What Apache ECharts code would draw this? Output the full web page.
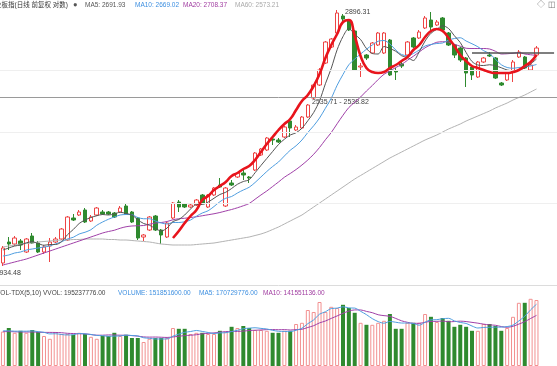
<!DOCTYPE html>
<html><head><meta charset="utf-8">
<script src="https://cdn.jsdelivr.net/npm/echarts/dist/echarts.min.js"></script>
<style>html,body{margin:0;padding:0;background:#fff;overflow:hidden}#c{width:557px;height:366px}</style>
</head><body><div id="c"></div>
<script>
// ---- data ----
const slotCount = 95; // 92 trading days + empty room on the right
const categories = Array.from({length: slotCount}, (_, i) => 'D' + (i + 1));

const openP = [1884,1968,1960,1972,1928,1992,1964,1928,1952,1968,
1980,1976,2064,2076,2096,2052,2076,2088,2088,2084,
2088,2112,2088,2064,1988,2016,2072,2016,1988,2064,
2128,2120,2108,2116,2156,2108,2156,2196,2112,2204,
2228,2244,2228,2256,2316,2336,2380,2376,2388,2452,
2416,2424,2468,2544,2596,2684,2748,2804,2872,2856,
2812,2668,2716,2724,2756,2724,2776,2652,2680,2716,
2784,2784,2824,2856,2836,2864,2804,2756,2744,2704,
2668,2628,2688,2716,2704,2604,2616,2648,2708,2708,
2656,2716];
const closeP = [1944,1960,1984,1956,1980,1964,1928,1948,1968,1980,
2020,2068,2056,2088,2048,2068,2104,2080,2080,2068,
2104,2080,2048,1984,1996,2068,2016,1996,2044,2124,
2108,2108,2116,2136,2124,2156,2184,2188,2184,2196,
2244,2236,2224,2324,2340,2384,2376,2368,2428,2424,
2428,2468,2516,2596,2656,2768,2780,2884,2860,2816,
2656,2672,2704,2764,2804,2804,2636,2648,2672,2768,
2748,2808,2864,2828,2848,2816,2756,2716,2696,2644,
2636,2688,2704,2712,2624,2596,2644,2688,2728,2664,
2676,2744];
const lowP = [1872,1936,1952,1936,1924,1960,1924,1920,1888,1964,
1976,1972,2052,2072,2044,2048,2072,2076,2076,2064,
2084,2076,2044,1976,1972,2012,2012,1960,1984,2060,
2088,2104,2104,2112,2120,2104,2152,2184,2108,2192,
2224,2216,2204,2252,2312,2332,2356,2364,2384,2388,
2412,2420,2464,2540,2592,2680,2744,2800,2852,2812,
2652,2628,2696,2720,2752,2720,2632,2616,2664,2712,
2744,2780,2820,2808,2832,2808,2752,2704,2688,2588,
2616,2624,2684,2708,2620,2592,2612,2608,2704,2660,
2652,2712];
const highP = [1952,1988,1992,1980,1984,2004,1972,1956,1984,1988,
2024,2072,2080,2096,2104,2076,2108,2096,2092,2088,
2112,2124,2092,2068,2000,2072,2076,2020,2048,2128,
2136,2124,2124,2140,2160,2160,2188,2224,2188,2216,
2248,2256,2232,2328,2344,2388,2388,2384,2432,2460,
2436,2472,2520,2600,2664,2772,2784,2896,2880,2860,
2816,2684,2720,2768,2808,2808,2780,2664,2688,2772,
2788,2816,2872,2888,2856,2868,2808,2760,2748,2708,
2672,2692,2708,2728,2708,2608,2648,2696,2736,2712,
2680,2752];

const ma5 = [1936,1944,1952,1956,1965,1969,1962,1955,1958,1958,
1969,1997,2018,2042,2056,2066,2073,2078,2076,2080,
2087,2082,2076,2057,2042,2035,2022,2012,2024,2050,
2058,2076,2100,2118,2118,2128,2143,2158,2167,2182,
2199,2210,2217,2245,2274,2302,2330,2358,2379,2396,
2405,2423,2453,2486,2533,2601,2663,2737,2790,2822,
2799,2778,2742,2722,2720,2750,2742,2731,2713,2706,
2694,2729,2772,2803,2819,2833,2822,2793,2766,2726,
2690,2676,2674,2677,2673,2665,2656,2653,2656,2664,
2680,2700];
const ma10 = [1912,1916,1924,1928,1936,1940,1944,1948,1952,1961,
1969,1980,1987,2000,2007,2017,2035,2048,2059,2068,
2076,2078,2077,2066,2061,2061,2052,2044,2040,2046,
2046,2049,2056,2071,2084,2093,2110,2129,2143,2150,
2164,2176,2187,2206,2228,2250,2270,2288,2312,2335,
2353,2376,2406,2433,2464,2503,2543,2595,2638,2677,
2700,2720,2739,2756,2771,2774,2760,2736,2718,2713,
2722,2736,2752,2758,2762,2764,2776,2782,2785,2772,
2761,2749,2733,2722,2699,2677,2666,2663,2666,2668,
2672,2678];
const ma20 = [1876,1882,1888,1894,1900,1908,1916,1924,1932,1940,
1948,1956,1964,1972,1980,1988,1996,2004,2010,2015,
2023,2029,2032,2033,2034,2039,2044,2046,2050,2057,
2061,2063,2066,2069,2073,2077,2081,2086,2092,2098,
2105,2113,2122,2139,2156,2172,2190,2208,2227,2242,
2258,2276,2296,2319,2346,2377,2406,2441,2475,2506,
2527,2548,2572,2594,2618,2639,2652,2666,2678,2695,
2711,2728,2745,2757,2767,2769,2768,2759,2751,2743,
2742,2742,2742,2740,2731,2720,2721,2723,2726,2720,
2717,2714];
const ma60 = [1948,1952,1956,1960,1962,1964,1968,1970,1972,1974,
1976,1976,1978,1978,1980,1980,1980,1980,1978,1978,
1976,1976,1974,1972,1970,1968,1964,1960,1958,1956,
1956,1956,1956,1958,1960,1962,1964,1968,1972,1976,
1980,1984,1988,1994,2000,2008,2018,2028,2040,2052,
2064,2076,2092,2108,2124,2140,2156,2172,2188,2204,
2220,2234,2248,2262,2276,2290,2304,2316,2328,2340,
2352,2364,2376,2386,2396,2408,2420,2430,2440,2452,
2462,2472,2482,2492,2504,2514,2524,2536,2546,2556,
2568,2580];
// hand-drawn red trend curve (starts at day 30)
const trendStart = 29;
const trend = [1984,2012,2044,2072,2096,2136,2152,2176,2192,2208,
2232,2244,2260,2272,2296,2328,2360,2388,2416,2440,
2460,2496,2532,2556,2592,2640,2704,2756,2800,2848,
2856,2792,2712,2664,2648,2644,2648,2664,2676,2692,
2708,2736,2756,2788,2812,2820,2812,2784,2752,2716,
2692,2672,2664,2656,2648,2644,2644,2644,2648,2656,
2672,2688,2716];

const volume = [86,95,83,88,83,90,85,75,68,85,
80,80,78,83,80,73,68,75,75,83,
75,78,70,70,60,68,70,70,70,95,
93,93,80,83,83,80,80,88,85,98,
95,100,95,90,90,88,83,83,88,88,
105,108,140,135,160,135,148,145,153,145,
133,108,103,103,108,113,130,93,93,108,
108,108,130,123,110,120,113,98,103,98,
88,88,105,105,100,88,95,123,158,158,
168,165];
const volMa5 = [88,88,87,87,87,87.8,85.8,84.2,80.2,80.6,
78.6,77.6,78.2,81.2,80.2,78.8,76.4,75.8,74.2,74.8,
75.2,77.2,76.2,75.2,70.6,69.2,67.6,67.6,67.6,74.6,
79.6,84.2,86.2,88.8,86.4,83.8,81.2,82.8,83.2,86.2,
89.2,93.2,94.6,95.6,94,92.6,89.2,86.8,86.4,86,
89.4,94.4,105.8,115.2,129.6,135.6,143.6,144.6,148.2,145.2,
144.8,136.8,128.4,118.4,111,107,111.4,109.4,107.4,107.4,
106.4,102,109.4,115.4,115.8,118.2,119.2,112.8,108.8,106.4,
100,95,96.4,96.8,97.2,97.2,98.6,102.2,112.8,124.4,
140.4,154.4];
const volMa10 = [86,86,85.5,85,85,85,84.5,84,84,83.8,
83.2,81.7,81.2,80.7,80.4,78.7,77,77,77.7,77.5,
77,76.8,76,74.7,72.7,72.2,72.4,71.9,71.4,72.6,
74.4,75.9,76.9,78.2,80.5,81.7,82.7,84.5,86,86.3,
86.5,87.2,88.7,89.4,90.1,90.9,91.2,90.7,91,90,
91,91.8,96.3,100.8,107.8,112.5,119,125.2,131.7,137.4,
140.2,140.2,136.5,133.3,128.1,125.9,124.1,118.9,112.9,109.2,
106.7,106.7,109.4,111.4,111.6,112.3,110.6,111.1,112.1,111.1,
109.1,107.1,104.6,102.8,101.8,98.6,96.8,99.3,104.8,110.8,
118.8,126.5];

const gridValues = [2656, 2408, 2124];
const rangeLineValue = 2548;
const resistValue = 2724;
const resistFrom = 80, resistTo = 94;

const headerTexts = ['业板指(日线 前复权 对数)', 'MA5: 2691.93', 'MA10: 2669.02', 'MA20: 2708.37', 'MA60: 2573.21'];
const volTexts = ['VOL-TDX(5,10) VVOL: 195237776.00', 'VOLUME: 151851600.00', 'MA5: 170729776.00', 'MA10: 141551136.00'];
const markTexts = ['2896.31', '1934.48', '2535.71 - 2538.82'];

// ---- build ----
const UP = '#ee4444', DOWN = '#2f8a2f';
const candle = openP.map((o, i) => [o, closeP[i], lowP[i], highP[i]]);
const trendData = categories.map((_, i) => (i >= trendStart && i - trendStart < trend.length) ? trend[i - trendStart] : null);
const volData = volume.map((v, i) => ({
  value: v,
  itemStyle: closeP[i] >= openP[i] ? {color: '#fff', borderColor: '#f29090', borderWidth: 1} : {color: DOWN}
}));

const FS = 6.5, FF = '"Liberation Sans", Arial, "Noto Sans CJK SC", sans-serif';
function txt(x, y, s, color, size) {
  return {type: 'text', left: x, top: y, silent: true,
    style: {text: s, fill: color, font: (size || FS) + 'px ' + FF}};
}

const chart = echarts.init(document.getElementById('c'), null, {renderer: 'canvas'});
chart.setOption({
  animation: false,
  backgroundColor: '#fff',
  grid: [
    {left: 0, right: 0, top: 0, height: 285},
    {left: 0, right: 0, top: 288, height: 78}
  ],
  xAxis: [
    {type: 'category', gridIndex: 0, data: categories, boundaryGap: true,
     axisLine: {show: true, lineStyle: {color: '#dcdcdc'}}, axisTick: {show: false}, axisLabel: {show: false}, splitLine: {show: false}},
    {type: 'category', gridIndex: 1, data: categories, boundaryGap: true,
     axisLine: {show: false}, axisTick: {show: false}, axisLabel: {show: false}, splitLine: {show: false}}
  ],
  yAxis: [
    {type: 'value', gridIndex: 0, min: 1796, max: 2936, scale: true,
     axisLine: {show: false}, axisTick: {show: false}, axisLabel: {show: false}, splitLine: {show: false}},
    {type: 'value', gridIndex: 1, min: 0, max: 195,
     axisLine: {show: false}, axisTick: {show: false}, axisLabel: {show: false}, splitLine: {show: false}}
  ],
  series: [
    {type: 'line', xAxisIndex: 0, yAxisIndex: 0, data: [], silent: true,
     markLine: {silent: true, symbol: 'none', label: {show: false}, animation: false,
       data: gridValues.map(v => ({yAxis: v, lineStyle: {color: '#efefef', width: 1, type: 'solid'}}))}},
    {type: 'candlestick', xAxisIndex: 0, yAxisIndex: 0, data: candle, barWidth: 4,
     itemStyle: {color: '#fff', color0: DOWN, borderColor: UP, borderColor0: DOWN, borderWidth: 1},
     markLine: {silent: true, symbol: 'none', label: {show: false}, animation: false,
       data: [
         {yAxis: rangeLineValue, lineStyle: {color: '#9a9a9a', width: 1, type: 'solid'}},
         [{coord: [resistFrom, resistValue], lineStyle: {color: '#555', width: 1.6, type: 'solid'}}, {coord: [resistTo, resistValue]}]
       ]}},
    {name: 'MA60', type: 'line', data: ma60, symbol: 'none', smooth: 0.3, lineStyle: {color: '#b3b3b3', width: 1}},
    {name: 'MA20', type: 'line', data: ma20, symbol: 'none', smooth: 0.3, lineStyle: {color: '#a040a8', width: 1}},
    {name: 'MA10', type: 'line', data: ma10, symbol: 'none', smooth: 0.3, lineStyle: {color: '#4f9ee0', width: 1}},
    {name: 'MA5', type: 'line', data: ma5, symbol: 'none', smooth: 0.3, lineStyle: {color: '#555', width: 1}},
    {name: 'trend', type: 'line', data: trendData, symbol: 'none', smooth: 0.5, z: 10, connectNulls: false,
     lineStyle: {color: '#e8141c', width: 2.6}},
    {type: 'bar', xAxisIndex: 1, yAxisIndex: 1, data: volData, barWidth: 4},
    {type: 'line', xAxisIndex: 1, yAxisIndex: 1, data: volMa10, symbol: 'none', smooth: 0.3, lineStyle: {color: '#a040a8', width: 1}},
    {type: 'line', xAxisIndex: 1, yAxisIndex: 1, data: volMa5, symbol: 'none', smooth: 0.3, lineStyle: {color: '#4f9ee0', width: 1}}
  ],
  graphic: [
    txt(-5, 2, headerTexts[0], '#333'),
    txt(73, 1.5, '●', '#555', 7.5),
    txt(85, 2, headerTexts[1], '#555'),
    txt(135, 2, headerTexts[2], '#3d8fe0'),
    txt(183, 2, headerTexts[3], '#a03ca0'),
    txt(235, 2, headerTexts[4], '#aaa'),
    txt(537, 1, '◇', '#777', 8),
    txt(548, 1, '◫', '#777', 8),
    txt(-4, 290, volTexts[0], '#444'),
    txt(118, 290, volTexts[1], '#3d8fe0'),
    txt(199, 290, volTexts[2], '#3d8fe0'),
    txt(263, 290, volTexts[3], '#a03ca0'),
    txt(345, 9, markTexts[0], '#444', 7),
    txt(-4.5, 270, markTexts[1], '#444', 7),
    txt(312, 99, markTexts[2], '#444', 7)
  ]
});
</script></body></html>
